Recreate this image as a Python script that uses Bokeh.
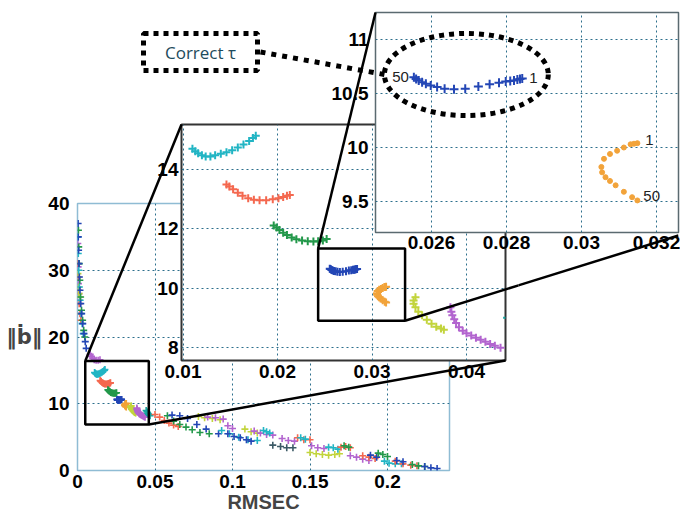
from bokeh.plotting import figure
from bokeh.models import Range1d, FixedTicker, Column, InlineStyleSheet
from bokeh.core.properties import value
from bokeh.embed import file_html
from bokeh.resources import INLINE

# ---------------- data ----------------
cyan_x = [0.0110, 0.0113, 0.0116, 0.0120, 0.0124, 0.0129, 0.0134, 0.0140, 0.0146, 0.0152, 0.0158, 0.0164, 0.0170, 0.0174, 0.0177]
cyan_y = [14.68, 14.60, 14.53, 14.46, 14.42, 14.42, 14.46, 14.51, 14.56, 14.63, 14.72, 14.82, 14.94, 15.04, 15.12]
salmon_x = [0.0146, 0.0149, 0.0153, 0.0158, 0.0163, 0.0169, 0.0175, 0.0181, 0.0188, 0.0195, 0.0201, 0.0206, 0.0210, 0.0213]
salmon_y = [13.48, 13.41, 13.32, 13.20, 13.10, 13.02, 12.97, 12.95, 12.95, 12.98, 13.02, 13.06, 13.10, 13.13]
green_x = [0.0196, 0.0199, 0.0202, 0.0206, 0.0210, 0.0215, 0.0220, 0.0226, 0.0232, 0.0238, 0.0243, 0.0248, 0.0252]
green_y = [12.10, 12.03, 11.95, 11.86, 11.78, 11.70, 11.64, 11.60, 11.57, 11.56, 11.57, 11.60, 11.65]
blue_x = [0.02842, 0.02836, 0.02829, 0.02820, 0.02810, 0.02798, 0.02780, 0.02755, 0.02725, 0.02690, 0.02660, 0.02635, 0.02615, 0.02598, 0.02585, 0.02575, 0.02566, 0.02559, 0.02553]
blue_y = [10.64, 10.635, 10.63, 10.62, 10.615, 10.61, 10.60, 10.585, 10.565, 10.545, 10.54, 10.545, 10.56, 10.575, 10.59, 10.605, 10.62, 10.635, 10.65]
orange_x = [0.03149, 0.03140, 0.03131, 0.03113, 0.03095, 0.03076, 0.03060, 0.03053, 0.03055, 0.03064, 0.03076, 0.03091, 0.03113, 0.03135, 0.03149]
orange_y = [10.04, 10.035, 10.03, 10.00, 9.97, 9.94, 9.895, 9.82, 9.77, 9.725, 9.69, 9.65, 9.59, 9.54, 9.51]
ygreen_x = [0.0346, 0.0344, 0.0344, 0.0346, 0.0349, 0.0353, 0.0358, 0.0363, 0.0368, 0.0373, 0.0376]
ygreen_y = [9.69, 9.58, 9.47, 9.35, 9.20, 9.08, 8.93, 8.80, 8.70, 8.64, 8.60]
purple_x = [0.0383, 0.0384, 0.0385, 0.0387, 0.0389, 0.0392, 0.0396, 0.0400, 0.0405, 0.0410, 0.0415, 0.0420, 0.0425, 0.0430, 0.0436]
purple_y = [9.35, 9.20, 9.08, 8.95, 8.82, 8.68, 8.56, 8.48, 8.40, 8.33, 8.26, 8.19, 8.12, 8.06, 7.99]

purple0_x = [0.0082, 0.0090, 0.0098, 0.0108, 0.0120, 0.0133, 0.0145]
purple0_y = [17.4, 17.1, 16.8, 16.6, 16.5, 16.5, 16.6]
teal_x = [0.0443, 0.0448, 0.0453, 0.0458, 0.0463, 0.0468]
teal_y = [9.0, 8.8, 8.6, 8.45, 8.3, 8.2]
stem_blue_x = [0.0004, 0.0005, 0.0007, 0.0009, 0.0012, 0.0016, 0.0021, 0.0027, 0.0034, 0.0042, 0.0050, 0.0056]
stem_blue_y = [37.0, 35.0, 33.0, 31.0, 29.0, 27.0, 25.0, 23.5, 22.0, 20.5, 19.3, 18.3]
stem_green_x = [0.0006, 0.0008, 0.0011, 0.0015, 0.0020, 0.0026, 0.0033, 0.0040, 0.0047]
stem_green_y = [36.0, 33.5, 31.0, 28.5, 26.0, 24.0, 22.5, 21.0, 20.0]
stem_cyan_x = [0.0003, 0.0005, 0.0008, 0.0012, 0.0017, 0.0023, 0.0030, 0.0037]
stem_cyan_y = [35.0, 32.5, 30.0, 27.5, 25.5, 23.5, 22.0, 20.5]
stem_salmon_x = [0.0002, 0.0004, 0.0007, 0.0011, 0.0016, 0.0022]
stem_salmon_y = [31.0, 29.0, 27.0, 25.0, 23.5, 22.5]
stem_purple_x = [0.0002, 0.0004, 0.0006, 0.0009, 0.0013]
stem_purple_y = [34.0, 30.5, 28.0, 26.5, 25.5]
stem_ygreen_x = [0.0003, 0.0006, 0.0010, 0.0014]
stem_ygreen_y = [29.5, 27.5, 26.5, 26.0]
tail_salmon1_x = [0.050, 0.053, 0.056, 0.059, 0.062, 0.065]
tail_salmon1_y = [8.4, 8.0, 7.5, 7.1, 6.8, 6.6]
tail_green1_x = [0.058, 0.062, 0.066, 0.070, 0.074, 0.079, 0.085]
tail_green1_y = [8.2, 7.4, 6.9, 6.5, 6.1, 5.7, 5.5]
tail_blue1_x = [0.061, 0.066, 0.071, 0.077, 0.083, 0.091]
tail_blue1_y = [8.3, 8.2, 7.8, 6.9, 6.2, 5.5]
tail_orange1_x = [0.078, 0.082, 0.087, 0.092]
tail_orange1_y = [8.1, 7.9, 7.8, 7.6]
tail_purple1_x = [0.084, 0.089, 0.094, 0.097, 0.100]
tail_purple1_y = [8.0, 7.9, 7.7, 6.7, 6.3]
tail_cyan1_x = [0.093, 0.098, 0.104, 0.110, 0.116]
tail_cyan1_y = [6.0, 5.5, 5.0, 4.6, 4.5]
tail_blue2_x = [0.097, 0.101, 0.105, 0.109, 0.112]
tail_blue2_y = [5.5, 5.1, 4.9, 4.6, 4.4]
tail_ygreen1_x = [0.108, 0.112, 0.116]
tail_ygreen1_y = [6.2, 5.8, 5.6]
tail_purple2_x = [0.114, 0.118, 0.122, 0.126]
tail_purple2_y = [5.9, 5.6, 5.4, 5.3]
tail_cyan2_x = [0.120, 0.122, 0.124]
tail_cyan2_y = [6.0, 5.8, 5.6]
tail_dark1_x = [0.126, 0.131, 0.135, 0.139]
tail_dark1_y = [3.8, 3.6, 3.4, 3.4]
tail_purple3_x = [0.132, 0.136, 0.140]
tail_purple3_y = [4.8, 4.5, 4.4]
tail_salmon2_x = [0.142, 0.146, 0.150]
tail_salmon2_y = [4.9, 4.6, 4.6]
tail_cyan3_x = [0.144, 0.147]
tail_cyan3_y = [4.9, 4.7]
tail_purple4_x = [0.151, 0.155, 0.159]
tail_purple4_y = [3.7, 3.4, 3.3]
tail_ygreen2_x = [0.150, 0.154, 0.158, 0.162, 0.166, 0.169]
tail_ygreen2_y = [2.7, 2.5, 2.4, 2.3, 2.4, 2.5]
tail_cyan4_x = [0.162, 0.165, 0.168]
tail_cyan4_y = [3.5, 3.4, 3.2]
tail_salmon3_x = [0.170, 0.173, 0.176]
tail_salmon3_y = [3.5, 3.6, 3.4]
tail_green2_x = [0.172, 0.175]
tail_green2_y = [3.7, 3.5]
tail_purple5_x = [0.176, 0.180, 0.184, 0.188]
tail_purple5_y = [2.2, 2.0, 1.7, 1.5]
tail_salmon4_x = [0.184, 0.188, 0.192]
tail_salmon4_y = [2.2, 2.0, 1.8]
tail_blue3_x = [0.189, 0.193]
tail_blue3_y = [2.3, 2.0]
tail_green3_x = [0.194, 0.197, 0.200]
tail_green3_y = [2.6, 2.4, 2.1]
tail_cyan5_x = [0.198, 0.201, 0.205, 0.209]
tail_cyan5_y = [1.4, 1.1, 1.0, 1.0]
tail_salmon5_x = [0.205, 0.210, 0.215, 0.219]
tail_salmon5_y = [1.4, 1.0, 0.8, 0.7]
tail_blue4_x = [0.206, 0.210]
tail_blue4_y = [1.5, 1.3]
tail_green4_x = [0.216, 0.220, 0.224]
tail_green4_y = [0.9, 0.7, 0.6]
tail_blue5_x = [0.224, 0.228, 0.232]
tail_blue5_y = [0.6, 0.4, 0.3]

main_xticks = [0, 0.05, 0.1, 0.15, 0.2]
main_xlabels = ["0", "0.05", "0.1", "0.15", "0.2"]
main_yticks = [0, 10, 20, 30, 40]
main_ylabels = ["0", "10", "20", "30", "40"]
mid_xticks = [0.01, 0.02, 0.03, 0.04]
mid_xlabels = ["0.01", "0.02", "0.03", "0.04"]
mid_yticks = [8, 10, 12, 14]
mid_ylabels = ["8", "10", "12", "14"]
big_xticks = [0.026, 0.028, 0.03, 0.032]
big_xlabels = ["0.026", "0.028", "0.03", "0.032"]
big_yticks = [9.5, 10, 10.5, 11]
big_ylabels = ["9.5", "10", "10.5", "11"]
index_labels = ["1", "50"]
x_title = "RMSEC"
y_title = "\u2016\u1e03\u2016"
note_text = "Correct \u03c4"

main_box = (0.005, 0.046, 6.9, 16.4)     # x0, x1, y0, y1
mid_box = (0.0243, 0.0335, 8.9, 11.33)
ellipse_c = (0.02693, 10.676)
ellipse_wh = (0.00437, 0.76)

# ---------------- styles / layout ----------------
CYAN, SALMON, GREEN, BLUE = "#22b5c4", "#f4684f", "#23984a", "#2346b5"
ORANGE, YGREEN, PURPLE, TEAL, DARK = "#f2a33a", "#c2d43c", "#b264cf", "#16a3a0", "#3c5a66"

series = [
    (stem_purple_x, stem_purple_y, PURPLE), (stem_salmon_x, stem_salmon_y, SALMON),
    (stem_ygreen_x, stem_ygreen_y, YGREEN), (stem_cyan_x, stem_cyan_y, CYAN),
    (stem_green_x, stem_green_y, GREEN), (stem_blue_x, stem_blue_y, BLUE),
    (purple0_x, purple0_y, PURPLE),
    (cyan_x, cyan_y, CYAN), (salmon_x, salmon_y, SALMON), (green_x, green_y, GREEN),
    (blue_x, blue_y, BLUE), (orange_x, orange_y, ORANGE), (ygreen_x, ygreen_y, YGREEN),
    (purple_x, purple_y, PURPLE), (teal_x, teal_y, TEAL),
    (tail_salmon1_x, tail_salmon1_y, SALMON), (tail_green1_x, tail_green1_y, GREEN),
    (tail_blue1_x, tail_blue1_y, BLUE), (tail_orange1_x, tail_orange1_y, YGREEN),
    (tail_purple1_x, tail_purple1_y, PURPLE), (tail_cyan1_x, tail_cyan1_y, CYAN),
    (tail_blue2_x, tail_blue2_y, BLUE), (tail_ygreen1_x, tail_ygreen1_y, YGREEN),
    (tail_purple2_x, tail_purple2_y, PURPLE), (tail_cyan2_x, tail_cyan2_y, CYAN),
    (tail_dark1_x, tail_dark1_y, DARK), (tail_purple3_x, tail_purple3_y, PURPLE),
    (tail_salmon2_x, tail_salmon2_y, SALMON), (tail_cyan3_x, tail_cyan3_y, CYAN),
    (tail_purple4_x, tail_purple4_y, PURPLE), (tail_ygreen2_x, tail_ygreen2_y, YGREEN),
    (tail_cyan4_x, tail_cyan4_y, CYAN), (tail_salmon3_x, tail_salmon3_y, SALMON),
    (tail_green2_x, tail_green2_y, GREEN), (tail_purple5_x, tail_purple5_y, PURPLE),
    (tail_salmon4_x, tail_salmon4_y, SALMON), (tail_blue3_x, tail_blue3_y, BLUE),
    (tail_green3_x, tail_green3_y, GREEN), (tail_cyan5_x, tail_cyan5_y, CYAN),
    (tail_salmon5_x, tail_salmon5_y, SALMON), (tail_blue4_x, tail_blue4_y, BLUE),
    (tail_green4_x, tail_green4_y, GREEN), (tail_blue5_x, tail_blue5_y, BLUE),
]

PAGE_W, PAGE_H = 680, 519
# frames in page pixels: left, top, right, bottom, x range, y range
MAIN = dict(l=77, t=203, r=449, b=470, x=(0.0, 0.24), y=(0.0, 40.0))
MID = dict(l=181, t=124, r=505, b=360, x=(0.009841, 0.044127), y=(7.563, 15.496))
BIG = dict(l=375, t=12, r=678, b=232, x=(0.024507, 0.032587), y=(9.213, 11.25))

GRID_COLOR = "#2d6f8c"
FONT = "Liberation Sans"
LEFT_PAD = 160   # same left border for every plot of the column (the column aligns them)
RIGHT_PAD = 2    # same right border for every plot
css_rules = []


def to_page(g, x, y):
    px = g["l"] + (x - g["x"][0]) / (g["x"][1] - g["x"][0]) * (g["r"] - g["l"])
    py = g["b"] - (y - g["y"][0]) / (g["y"][1] - g["y"][0]) * (g["b"] - g["t"])
    return px, py


def place(cls, left, top, w, h):
    css_rules.append(f".{cls}{{position:absolute !important; left:{left}px !important; "
                     f"top:{top}px !important; width:{w}px !important; height:{h}px !important;}}")
    return {"position": "absolute", "left": f"{left}px", "top": f"{top}px",
            "width": f"{w}px", "height": f"{h}px"}


def make_fig(g, mbt, mb_bottom, cls, fill_border):
    w = LEFT_PAD + (g["r"] - g["l"]) + RIGHT_PAD
    h = mbt + (g["b"] - g["t"]) + mb_bottom
    left, top = g["l"] - LEFT_PAD, g["t"] - mbt
    p = figure(width=w, height=h, x_range=Range1d(*g["x"]), y_range=Range1d(*g["y"]),
               output_backend="svg", toolbar_location=None,
               min_border_left=LEFT_PAD, min_border_right=RIGHT_PAD,
               min_border_top=mbt, min_border_bottom=mb_bottom,
               styles=place(cls, left, top, w, h), css_classes=[cls])
    p.background_fill_color = "white"
    if not fill_border:
        p.border_fill_alpha = 0
    for ax in (p.xaxis[0], p.yaxis[0]):
        ax.major_tick_in = 0
        ax.major_tick_out = 0
        ax.minor_tick_in = 0
        ax.minor_tick_out = 0
        ax.axis_line_color = None
        ax.major_label_text_font = FONT
        ax.major_label_text_font_style = "bold"
        ax.major_label_text_font_size = "19px"
        ax.major_label_text_color = "black"
    for gr in (p.xgrid[0], p.ygrid[0]):
        gr.grid_line_color = GRID_COLOR
        gr.grid_line_dash = "2 3"
        gr.grid_line_width = 1
    return p


def set_ticks(p, xt, xl, yt, yl):
    p.xaxis[0].ticker = FixedTicker(ticks=xt)
    p.xaxis[0].major_label_overrides = {t: s for t, s in zip(xt, xl)}
    p.yaxis[0].ticker = FixedTicker(ticks=yt)
    p.yaxis[0].major_label_overrides = {t: s for t, s in zip(yt, yl)}


# ---- main plot ----
pm = make_fig(MAIN, 20, 48, "pmain", True)
set_ticks(pm, main_xticks, main_xlabels, main_yticks, main_ylabels)
pm.outline_line_color = "#8fbcd4"
pm.outline_line_width = 1.5
pm.xaxis[0].major_label_standoff = 4
pm.yaxis[0].major_label_standoff = 8
pm.xaxis[0].axis_label = x_title
pm.xaxis[0].axis_label_text_font = FONT
pm.xaxis[0].axis_label_text_font_style = "bold"
pm.xaxis[0].axis_label_text_font_size = "20px"
pm.xaxis[0].axis_label_standoff = 0
pm.yaxis[0].axis_label = y_title
pm.yaxis[0].axis_label_text_font = "DejaVu Sans"
pm.yaxis[0].axis_label_text_font_style = "bold"
pm.yaxis[0].axis_label_text_font_size = "21px"
pm.yaxis[0].axis_label_standoff = 3
try:
    pm.yaxis[0].axis_label_orientation = "horizontal"
except Exception:
    pass
for xs, ys, c in series:
    pm.scatter(xs, ys, marker="cross", size=7, line_color=c, line_width=1.6)
pm.quad(left=[main_box[0]], right=[main_box[1]], bottom=[main_box[2]], top=[main_box[3]],
        fill_color=None, line_color="black", line_width=2.5)

# ---- middle zoom ----
pz = make_fig(MID, 6, 30, "pmid", False)
set_ticks(pz, mid_xticks, mid_xlabels, mid_yticks, mid_ylabels)
pz.outline_line_color = "#333333"
pz.outline_line_width = 2
pz.xaxis[0].major_label_standoff = 4
pz.yaxis[0].major_label_standoff = 3
for xs, ys, c in series:
    pz.scatter(xs, ys, marker="cross", size=8, line_color=c, line_width=2)
pz.quad(left=[mid_box[0]], right=[mid_box[1]], bottom=[mid_box[2]], top=[mid_box[3]],
        fill_color=None, line_color="black", line_width=2.5)

# ---- big zoom ----
pb = make_fig(BIG, 6, 27, "pbig", False)
set_ticks(pb, big_xticks, big_xlabels, big_yticks, big_ylabels)
pb.outline_line_color = "#5a6a70"
pb.outline_line_width = 1.5
pb.xaxis[0].major_label_standoff = 3
pb.yaxis[0].major_label_standoff = 7
for xs, ys, c in series:
    if c == ORANGE:
        pb.scatter(xs, ys, marker="circle", size=5, fill_color=c, line_color=c)
    else:
        pb.scatter(xs, ys, marker="cross", size=9, line_color=c, line_width=2)
lab_kw = dict(text_font=value(FONT), text_font_size="15px", text_color="#222222",
              text_baseline="middle")
pb.text(x=[blue_x[0]], y=[blue_y[0]], text=[index_labels[0]], x_offset=7, **lab_kw)
pb.text(x=[blue_x[-1]], y=[blue_y[-1]], text=[index_labels[1]], x_offset=-5,
        text_align="right", **lab_kw)
pb.text(x=[orange_x[0]], y=[orange_y[0]], text=[index_labels[0]], x_offset=8, y_offset=-3, **lab_kw)
pb.text(x=[orange_x[-1]], y=[orange_y[-1]], text=[index_labels[1]], x_offset=6, y_offset=-4, **lab_kw)
pb.ellipse(x=[ellipse_c[0]], y=[ellipse_c[1]], width=[ellipse_wh[0]], height=[ellipse_wh[1]],
           fill_color=None, line_color="black", line_width=5, line_dash="5 5")

# ---- overlays (connectors and note) in page-pixel coordinates ----
# two transparent overlays, each narrower than the page, together covering it
m_tl = to_page(MAIN, main_box[0], main_box[3])
m_br = to_page(MAIN, main_box[1], main_box[2])
z_tl = to_page(MID, mid_box[0], mid_box[3])
z_br = to_page(MID, mid_box[1], mid_box[2])
x0s = [m_tl[0], m_br[0], z_tl[0], z_br[0]]
y0s = [m_tl[1], m_br[1], z_tl[1], z_br[1]]
x1s = [MID["l"], MID["r"], BIG["l"], BIG["r"]]
y1s = [MID["t"], MID["b"], BIG["t"], BIG["b"] + 3]
NOTE = (143, 33, 257, 70)  # left, top, right, bottom in page px
e_left = to_page(BIG, ellipse_c[0] - ellipse_wh[0] / 2, ellipse_c[1])


def make_overlay(x_start, x_end, cls, with_text):
    w = LEFT_PAD + (x_end - x_start) + RIGHT_PAD
    po = figure(width=w, height=PAGE_H,
                x_range=Range1d(x_start, x_end), y_range=Range1d(PAGE_H, 0),
                output_backend="svg", toolbar_location=None,
                min_border_left=LEFT_PAD, min_border_right=RIGHT_PAD,
                min_border_top=0, min_border_bottom=0,
                x_axis_location=None, y_axis_location=None,
                styles=place(cls, x_start - LEFT_PAD, 0, w, PAGE_H), css_classes=[cls])
    po.outline_line_color = None
    po.background_fill_alpha = 0
    po.border_fill_alpha = 0
    try:
        po.grid.visible = False
    except Exception:
        pass
    po.segment(x0=x0s, y0=y0s, x1=x1s, y1=y1s, line_color="black", line_width=2.5)
    po.segment(x0=[NOTE[2] + 3], y0=[(NOTE[1] + NOTE[3]) / 2], x1=[e_left[0]], y1=[e_left[1]],
               line_color="black", line_width=5, line_dash="5 6")
    if with_text:
        po.quad(left=[NOTE[0]], right=[NOTE[2]], top=[NOTE[1]], bottom=[NOTE[3]],
                fill_color=None, line_color="black", line_width=5, line_dash="5 5")
        po.text(x=[(NOTE[0] + NOTE[2]) / 2], y=[(NOTE[1] + NOTE[3]) / 2], text=[note_text],
                text_align="center", text_baseline="middle", text_font=value("Open Sans"),
                text_font_size="17px", text_color="#1e4b5c")
    return po


split = PAGE_W - LEFT_PAD - RIGHT_PAD          # left overlay covers 0 .. split
po_a = make_overlay(0, split, "povera", True)
po_b = make_overlay(split, PAGE_W - RIGHT_PAD, "poverb", False)

css_rules.append(":host{position:relative;}")
layout = Column(children=[pm, pz, pb, po_a, po_b], width=PAGE_W, height=PAGE_H,
                styles={"position": "relative"},
                stylesheets=[InlineStyleSheet(css="\n".join(css_rules))])

open("out.html", "w").write(file_html(layout, INLINE))
